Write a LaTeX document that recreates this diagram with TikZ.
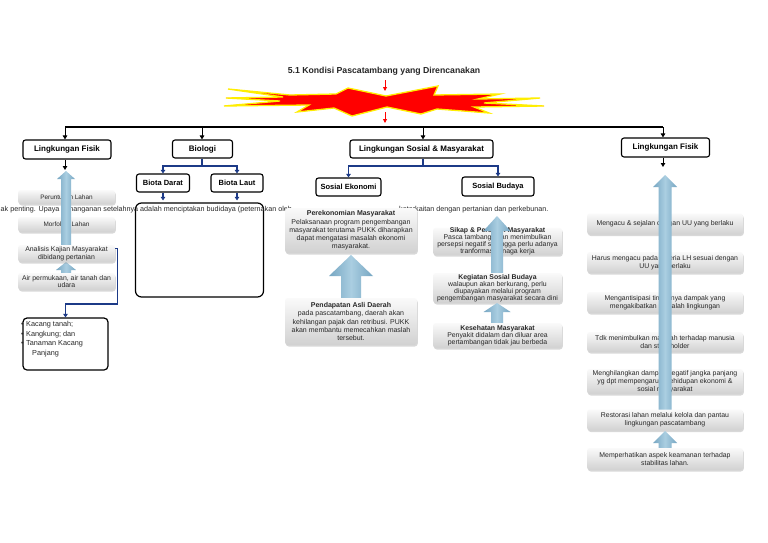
\documentclass[tikz,border=0pt]{standalone}
\usepackage{fontspec}
\setmainfont{Liberation Sans}
\usetikzlibrary{arrows.meta,shadows,calc}
\definecolor{linkblue}{RGB}{28,58,135}
\definecolor{arrowdark}{RGB}{118,166,194}
\definecolor{arrowlight}{RGB}{170,206,225}
\definecolor{greytext}{RGB}{40,40,40}
\definecolor{burstyellow}{RGB}{255,238,0}
% #1 bottom coordinate, #2 tip coordinate, #3 shaft half width, #4 head half width, #5 head length
\newcommand\blueuparrow[5]{%
  \path[bigarrow] let \p1=(#1), \p2=(#2) in
    (\x2-#3pt,\y1) -- (\x2-#3pt,\y2-#5pt) -- (\x2-#4pt,\y2-#5pt) -- (\x2,\y2)
    -- (\x2+#4pt,\y2-#5pt) -- (\x2+#3pt,\y2-#5pt) -- (\x2+#3pt,\y1) -- cycle;}
\newcommand\bulletitem{\makebox[0pt][r]{•\hspace{2.5pt}}}
\begin{document}
\begin{tikzpicture}[x=1pt,y=-1pt,
  mainbox/.style={draw=black,line width=1.1pt,rounded corners=2.5pt,fill=white,inner sep=0pt,font=\bfseries\fontsize{8}{9}\selectfont},
  subbox/.style={mainbox,font=\bfseries\fontsize{7.5}{9}\selectfont},
  greybox/.style={rounded corners=3pt,top color=gray!4,bottom color=gray!36,drop shadow={opacity=0.3,shadow xshift=0.8pt,shadow yshift=-1.5pt},inner sep=0pt,align=center,text=greytext},
  leftgrey/.style={greybox,minimum width=97pt,font=\fontsize{6.4}{7.4}\selectfont},
  lowgrey/.style={greybox,minimum width=97pt,font=\fontsize{6.9}{7.6}\selectfont},
  midgrey/.style={greybox,minimum width=132pt,font=\fontsize{7}{8.3}\selectfont},
  sbgrey/.style={greybox,minimum width=129pt,font=\fontsize{6.9}{7}\selectfont},
  rgrey/.style={greybox,minimum width=156pt,font=\fontsize{6.9}{7.8}\selectfont},
  busline/.style={line width=1.5pt,black},
  busarrow/.style={line width=1pt,-{Triangle[length=4pt,width=4.5pt]}},
  bluelink/.style={line width=1.2pt,linkblue},
  bluearrow/.style={bluelink,-{Triangle[length=3.5pt,width=4.5pt]}},
  redarrow/.style={red,line width=0.9pt,-{Triangle[length=4pt,width=4pt]}},
  bigarrow/.style={left color=arrowdark,right color=arrowdark,middle color=arrowlight},
  overflow/.style={inner sep=0pt,text=greytext,font=\fontsize{7.2}{8}\selectfont},
]
\fill[white] (0,0) rectangle (768,543);
\useasboundingbox (0,0) rectangle (768,543);

% title and burst
\node[font=\bfseries\fontsize{8.7}{10}\selectfont,text=black!85] (title) at (384,71) {5.1 Kondisi Pascatambang yang Direncanakan};
\filldraw[fill=red,draw=burstyellow,line width=1.3pt,line join=miter]
  (228,89) -- (290,95) -- (336,94) -- (348,88) -- (386,96) -- (438,86) -- (434,95)
  -- (500,94) -- (478,99) -- (540,98) -- (484,103) -- (544,106) -- (474,107)
  -- (489,113) -- (437,109) -- (421,114) -- (387,107) -- (352,116) -- (334,108)
  -- (297,112) -- (309,105) -- (224,106) -- (280,101) -- (226,98) -- (283,97) -- cycle;
\coordinate (rt1) at (385,80); \coordinate (rt2) at (385,91);
\coordinate (rb1) at (385,112); \coordinate (rb2) at (385,123);
\draw[redarrow] (rt1) -- (rt2);
\draw[redarrow] (rb1) -- (rb2);

% bus and main boxes
\coordinate (bus1) at (65,127); \coordinate (bus2) at (202,127);
\coordinate (bus3) at (423,127); \coordinate (bus4) at (663,127);
\draw[busline] (bus1) -- (bus4);
\node[mainbox,minimum width=88pt,minimum height=19pt] (lf1) at (67,149.5) {Lingkungan Fisik};
\node[mainbox,minimum width=60pt,minimum height=18pt] (bio) at (202.5,149) {Biologi};
\node[mainbox,minimum width=143pt,minimum height=18pt] (lsm) at (421.5,149) {Lingkungan Sosial \& Masyarakat};
\node[mainbox,minimum width=88pt,minimum height=19pt] (lf2) at (665.5,147.5) {Lingkungan Fisik};
\draw[busarrow] (bus1) -- (bus1 |- lf1.north);
\draw[busarrow] (bus2) -- (bus2 |- bio.north);
\draw[busarrow] (bus3) -- (bus3 |- lsm.north);
\draw[busarrow] (bus4) -- (bus4 |- lf2.north);
\coordinate (lfd1) at (65,170); \coordinate (lfd2) at (663,167);
\draw[busarrow] (lf1.south -| bus1) -- (lfd1);
\draw[busarrow] (lf2.south -| bus4) -- (lfd2);

% biologi branch
\node[subbox,minimum width=53pt,minimum height=18pt] (bdarat) at (163,183) {Biota Darat};
\node[subbox,minimum width=52pt,minimum height=18pt] (blaut) at (237,183) {Biota Laut};
\node[draw=black,line width=1.2pt,rounded corners=6pt,minimum width=128pt,minimum height=94pt,fill=white] (biobox) at (199.5,250) {};
\coordinate (bj) at (202,166);
\draw[bluelink] (bio.south -| bj) -- (bj);
\draw[bluearrow] (bj) -| (bdarat.north);
\draw[bluearrow] (bj) -| (blaut.north);
\draw[bluearrow,shorten >=2pt] (bdarat.south) -- (bdarat.south |- biobox.north);
\draw[bluearrow,shorten >=2pt] (blaut.south) -- (blaut.south |- biobox.north);

% sosial branch
\node[subbox,minimum width=65pt,minimum height=18pt] (sek) at (348.5,187) {Sosial Ekonomi};
\node[subbox,minimum width=72pt,minimum height=19pt] (sbud) at (498,186.5) {Sosial Budaya};
\coordinate (sj) at (423,166);
\draw[bluelink] (lsm.south -| sj) -- (sj);
\draw[bluearrow] (sj) -| (sek.north);
\draw[bluearrow] (sj) -| (sbud.north);

% overflowing text line
\node[overflow,anchor=west] (ovl) at (0.5,210) {ak penting. Upaya penanganan setelahnya adalah menciptakan budidaya (peternakan oleh};
\node[overflow,anchor=west] (ovr) at (399,210) {keterkaitan dengan pertanian dan perkebunan.};

% left column
\node[leftgrey,minimum height=14pt] (perl) at (66.5,197) {Peruntukan Lahan};
\node[leftgrey,minimum height=15pt] (morf) at (66.5,224.5) {Morfologi Lahan};
\coordinate (la1b) at (66,256); \coordinate (la1t) at (66,171);
\coordinate (la2b) at (66,285); \coordinate (la2t) at (66,262);
\blueuparrow{la1b}{la1t}{5}{9}{8}
\blueuparrow{la2b}{la2t}{5}{10}{8}
\node[lowgrey,minimum height=17pt] (anal) at (66.5,253.5) {Analisis Kajian Masyarakat\\dibidang pertanian};
\node[lowgrey,minimum height=17pt] (air) at (66.5,281.5) {Air permukaan, air tanah dan\\udara};
\node[draw=black,line width=1.2pt,rounded corners=4pt,minimum width=85pt,minimum height=52pt,fill=white] (kac) at (65.5,344) {};
\node[anchor=north west,inner sep=0pt,align=left,text=greytext,font=\fontsize{7.3}{9.7}\selectfont] (kactext) at (26,321)
  {\bulletitem Kacang tanah;\\\bulletitem Kangkung; dan\\\bulletitem Tanaman Kacang\\\hspace*{6pt}Panjang};
\coordinate (kbend) at (90,304);
\draw[bluearrow] ([shift={(0,4)}]anal.north east) -- ++(2,0) |- (kbend) -| (kac.north);

% sosial ekonomi column
\node[midgrey,minimum height=45pt] (ekon) at (351,230.5) {\textbf{Perekonomian Masyarakat}\\Pelaksanaan program pengembangan\\masyarakat terutama PUKK diharapkan\\dapat mengatasi masalah ekonomi\\masyarakat.};
\coordinate (mab) at (351,305); \coordinate (mat) at (351,255);
\blueuparrow{mab}{mat}{10}{22}{21}
\node[midgrey,minimum height=47pt] (pad) at (351,321.5) {\textbf{Pendapatan Asli Daerah}\\pada pascatambang, daerah akan\\kehilangan pajak dan retribusi. PUKK\\akan membantu memecahkan maslah\\tersebut.};

% sosial budaya column
\node[sbgrey,minimum height=27pt] (sikap) at (497.5,241.5) {\textbf{Sikap \& Persepsi Masyarakat}\\Pasca tambang akan menimbulkan\\persepsi negatif sehingga perlu adanya\\tranformasi tenaga kerja};
\coordinate (sa1b) at (497,286); \coordinate (sa1t) at (497,216);
\blueuparrow{sa1b}{sa1t}{6}{13.5}{15}
\node[sbgrey,minimum height=30pt] (keg) at (497.5,288) {\textbf{Kegiatan Sosial Budaya}\\walaupun akan berkurang, perlu\\diupayakan melalui program\\pengembangan masyarakat secara dini};
\coordinate (sa2b) at (497,335); \coordinate (sa2t) at (497,303);
\blueuparrow{sa2b}{sa2t}{6}{13.5}{9}
\node[sbgrey,minimum height=25pt] (kes) at (497.5,335.5) {\textbf{Kesehatan Masyarakat}\\Penyakit didalam dan diluar area\\pertambangan tidak jau berbeda};

% right column
\node[rgrey,minimum height=21pt] (r1) at (665,224) {Mengacu \& sejalan dengan UU yang berlaku};
\node[rgrey,minimum height=21pt] (r2) at (665,262.5) {Harus mengacu pada kriteria LH sesuai dengan\\UU yang berlaku};
\node[rgrey,minimum height=21pt] (r3) at (665,302.5) {Mengantisipasi timbulnya dampak yang\\mengakibatkan masalah lingkungan};
\node[rgrey,minimum height=20pt] (r4) at (665,342) {Tdk menimbulkan masalah terhadap manusia\\dan stakeholder};
\node[rgrey,minimum height=25pt] (r5) at (665,381.5) {Menghilangkan dampak negatif jangka panjang\\yg dpt mempengaruhi kehidupan ekonomi \&\\sosial masyarakat};
\coordinate (ra1b) at (665,418); \coordinate (ra1t) at (665,175);
\blueuparrow{ra1b}{ra1t}{6.5}{12}{12}
\node[rgrey,minimum height=21pt] (r6) at (665,420) {Restorasi lahan melalui kelola dan pantau\\lingkungan pascatambang};
\coordinate (ra2b) at (665,462); \coordinate (ra2t) at (665,431);
\blueuparrow{ra2b}{ra2t}{6.5}{12}{12}
\node[rgrey,minimum height=22pt] (r7) at (665,459) {Memperhatikan aspek keamanan terhadap\\stabilitas lahan.};
\end{tikzpicture}
\end{document}
